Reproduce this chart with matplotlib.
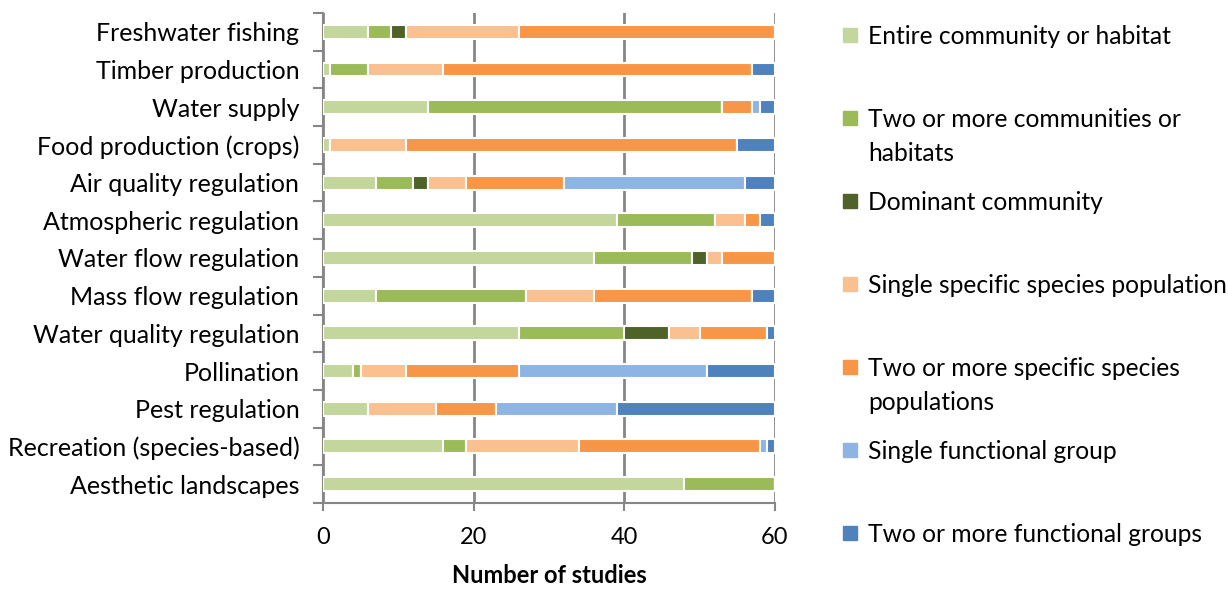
import numpy as np
import matplotlib
matplotlib.use('Agg')
import matplotlib.pyplot as plt
from matplotlib.patches import Rectangle

plt.rcParams['font.family'] = ['Lato', 'DejaVu Sans']

services = ['Freshwater fishing', 'Timber production', 'Water supply', 'Food production (crops)',
            'Air quality regulation', 'Atmospheric regulation', 'Water flow regulation',
            'Mass flow regulation', 'Water quality regulation', 'Pollination', 'Pest regulation',
            'Recreation (species-based)', 'Aesthetic landscapes']

entire_comm   = [6, 1, 14, 1, 7, 39, 36, 7, 26, 4, 6, 16, 48]
multi_comm    = [3, 5, 39, 0, 5, 13, 13, 20, 14, 1, 0, 3, 12]
dominant_comm = [2, 0, 0, 0, 2, 0, 2, 0, 6, 0, 0, 0, 0]
single_pop    = [15, 10, 0, 10, 5, 4, 2, 9, 4, 6, 9, 15, 0]
multi_pop     = [34, 41, 4, 44, 13, 2, 7, 21, 9, 15, 8, 24, 0]
single_fg     = [0, 0, 1, 0, 24, 0, 0, 0, 0, 25, 16, 1, 0]
multi_fg      = [0, 3, 2, 5, 4, 2, 0, 3, 1, 9, 21, 1, 0]

series = [entire_comm, multi_comm, dominant_comm, single_pop, multi_pop, single_fg, multi_fg]
labels = ['Entire community or habitat', 'Two or more communities or\nhabitats',
          'Dominant community', 'Single specific species population',
          'Two or more specific species\npopulations', 'Single functional group',
          'Two or more functional groups']
colors = ['#C3D69B', '#9BBB59', '#4F6228', '#FAC090', '#F79646', '#8EB4E3', '#4F81BD']

GRID = '#868686'
W, H = 1228, 589

fig = plt.figure(figsize=(W / 100, H / 100), dpi=100, facecolor='white')
ax = fig.add_axes([0.263, 0.146, 0.368, 0.832])

y = np.arange(len(services))
left = np.zeros(len(services))
for vals, c in zip(series, colors):
    vals = np.array(vals, dtype=float)
    ax.barh(y, vals, left=left, height=0.37, color=c, edgecolor='white', linewidth=1.5, zorder=3)
    left += vals

ax.set_xlim(0, 60)
ax.set_ylim(12.5, -0.5)
ax.set_xticks([0, 20, 40, 60])
ax.tick_params(axis='x', labelsize=17, length=6, width=1.5, color=GRID, pad=11)
ax.set_yticks(y)
ax.set_yticklabels(services, fontsize=18)
ax.tick_params(axis='y', which='major', length=0, pad=17)
ax.set_yticks(np.arange(-0.5, 13, 1), minor=True)
ax.tick_params(axis='y', which='minor', length=7, width=1.5, color=GRID)
ax.grid(axis='x', color=GRID, lw=2, zorder=0)
for s in ['top', 'right']:
    ax.spines[s].set_visible(False)
for s in ['left', 'bottom']:
    ax.spines[s].set_color(GRID)
    ax.spines[s].set_linewidth(1.5)
ax.set_xlabel('Number of studies', fontsize=17, fontweight='bold', labelpad=12)

# legend drawn by hand, one entry every 83 px
for i, (lab, c) in enumerate(zip(labels, colors)):
    yc = 1 - (35 + 83 * i) / H
    fig.add_artist(Rectangle((843 / W, yc - 7 / H), 14 / W, 14 / H,
                             transform=fig.transFigure, color=c))
    fig.text(868 / W, yc + 10 / H, lab, fontsize=17.7, va='top', ha='left',
             linespacing=1.6)

fig.savefig('out.png', dpi=100, facecolor='white')
